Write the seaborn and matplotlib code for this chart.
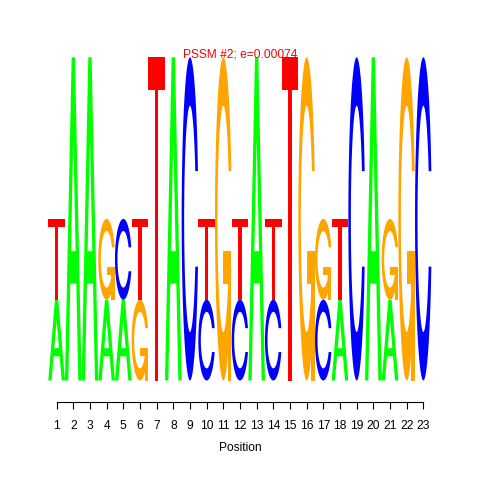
import numpy as np
import matplotlib
matplotlib.use("Agg")
import matplotlib.pyplot as plt
from matplotlib.patches import Polygon
import seaborn as sns

# motif probabilities per position (A, C, G, T)
positions = list(range(1, 24))
prob_a = [0.5, 1, 1, 0.5, 0.5, 0, 0, 1, 0, 0, 0, 0, 1, 0, 0, 0, 0, 0.5, 0, 1, 0.5, 0, 0]
prob_c = [0, 0, 0, 0, 0.5, 0, 0, 0, 1, 0.5, 0, 0.5, 0, 0.5, 0, 0, 0.5, 0, 1, 0, 0, 0, 1]
prob_g = [0, 0, 0, 0.5, 0, 0.5, 0, 0, 0, 0, 1, 0, 0, 0, 0, 1, 0.5, 0, 0, 0, 0.5, 1, 0]
prob_t = [0.5, 0, 0, 0, 0, 0.5, 1, 0, 0, 0.5, 0, 0.5, 0, 0.5, 1, 0, 0, 0.5, 0, 0, 0, 0, 0]
letters = ["A", "C", "G", "T"]
title = "PSSM #2; e=0.00074"
xlabel = "Position"

colors = {"A": "#00FF00", "C": "#0000FF", "G": "#FFA500", "T": "#FF0000"}


def ring():
    a1 = np.linspace(0.3 + np.pi / 2, np.pi, 100)
    a2 = np.linspace(np.pi, 1.5 * np.pi, 100)
    xl = np.r_[0.5 + 0.5 * np.sin(a1), 0.5 + 0.5 * np.sin(a2)]
    yl = np.r_[0.5 + 0.5 * np.cos(a1), 0.5 + 0.5 * np.cos(a2)]
    xo = np.r_[xl, xl[::-1]]
    yo = np.r_[yl, 1 - yl[::-1]]
    top = (0.5 + 0.5 * np.cos(a1)).max()
    r1 = (0.5 + 0.5 * np.sin(a1)).max()
    xi1 = 0.5 + 0.35 * np.sin(a1)
    yi1 = 0.5 + 0.35 * np.cos(a1)
    keep = yi1 <= top
    xi1, yi1 = xi1[keep], yi1[keep].copy()
    yi1[0] = top
    xi = np.r_[xi1, 0.5 + 0.35 * np.sin(a2)]
    yi = np.r_[yi1, 0.5 + 0.35 * np.cos(a2)]
    xin = np.r_[xi, xi[::-1]]
    yin = np.r_[yi, 1 - yi[::-1]]
    return np.r_[xo, xin[::-1]], np.r_[yo, yin[::-1]], r1


def shapes(letter):
    col = colors[letter]
    if letter == "A":
        x = np.array([0, 4, 6, 10, 8, 6.8, 3.2, 2, 0]) / 10
        y = np.array([0, 10, 10, 0, 0, 3, 3, 0, 0]) / 10
        hx = np.array([3.6, 5, 6.4, 3.6]) / 10
        hy = np.array([4, 7.5, 4, 4]) / 10
        return [(x, y, col), (hx, hy, "white")]
    if letter == "T":
        x = np.array([0, 10, 10, 6, 6, 4, 4, 0]) / 10
        y = np.array([10, 10, 9, 9, 0, 0, 9, 9]) / 10
        return [(x, y, col)]
    x, y, r1 = ring()
    if letter == "C":
        return [(x, y, col)]
    bx = np.array([r1, 0.5, 0.5, r1 - 0.2, r1 - 0.2, r1, r1])
    by = np.array([0.4, 0.4, 0.3, 0.3, 0, 0, 0.4])
    return [(x, y, col), (bx, by, col)]


sns.set_style("white")
plt.rcParams["font.family"] = ["Liberation Sans", "DejaVu Sans"]

fig = plt.figure(figsize=(4.8, 4.8), dpi=100)
ax = fig.add_axes([48.3 / 480, 99.5 / 480, 383.4 / 480, 323.2 / 480])

probs = np.array([prob_a, prob_c, prob_g, prob_t])
for j, pos in enumerate(positions):
    p = probs[:, j]
    nz = p[p > 0]
    ic = 2 + np.sum(nz * np.log2(nz))
    h = p * ic
    y0 = 0.0
    for k in np.argsort(h, kind="stable"):
        if h[k] <= 0:
            continue
        for sx, sy, c in shapes(letters[k]):
            xy = np.column_stack([pos - 0.5 + sx, y0 + sy * h[k]])
            ax.add_patch(Polygon(xy, closed=True, facecolor=c, edgecolor="none"))
        y0 += h[k]

ax.set_xlim(0.5, 23.5)
ax.set_ylim(0, 2)
ax.set_xticks(positions)
ax.set_yticks([])
sns.despine(ax=ax, left=True, offset={"bottom": 15.5}, trim=True)
ax.spines["bottom"].set_color("black")
ax.spines["bottom"].set_linewidth(0.8)
ax.tick_params(axis="x", bottom=True, length=4.8, width=0.8, color="black",
               labelsize=8.64, labelcolor="black", pad=7.8)
ax.set_xlabel(xlabel, fontsize=8.64, color="black", labelpad=7.5)
fig.text(0.5, 422.5 / 480, title, color="red", ha="center", va="baseline", fontsize=8.64)

fig.savefig("out.png", dpi=100)
